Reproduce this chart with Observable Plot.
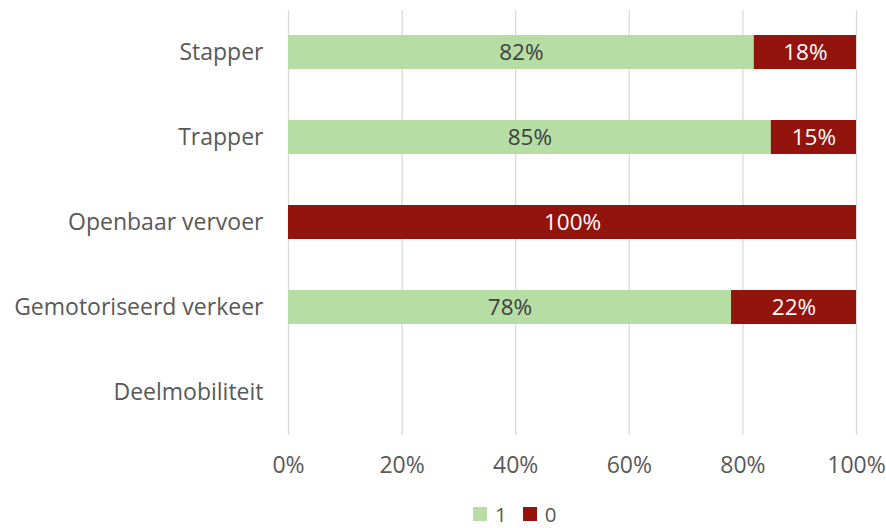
<!DOCTYPE html>
<html>
<head>
<meta charset="utf-8">
<script src="https://cdn.jsdelivr.net/npm/d3@7"></script>
<script src="https://cdn.jsdelivr.net/npm/@observablehq/plot@0.6"></script>
<style>
  html, body { margin: 0; padding: 0; background: #fff; overflow: hidden; }
  #chart { width: 886px; height: 528px; position: relative; }
  .legend { position: absolute; left: 473px; top: 501px; display: flex; align-items: center; height: 26px; font-family: "Open Sans", sans-serif; font-size: 20.5px; line-height: 26px; color: #595959; }
  .legend span.sw { display: inline-block; width: 14px; height: 14px; margin-right: 8px; }
  .legend span.it { display: inline-flex; align-items: center; margin-right: 16px; line-height: 26px; }
</style>
</head>
<body>
<div id="chart"></div>
<script>
const categories = ["Stapper", "Trapper", "Openbaar vervoer", "Gemotoriseerd verkeer", "Deelmobiliteit"];
const seriesNames = ["1", "0"];
const values1 = [82, 85, 0, 78, 0];
const values0 = [18, 15, 100, 22, 0];
const colors = ["#b5dda4", "#92140c"];
const xTicks = [0, 20, 40, 60, 80, 100];

const rows = [];
categories.forEach((c, i) => {
  const v1 = values1[i], v0 = values0[i];
  rows.push({cat: c, series: "1", x1: 0, x2: v1, value: v1});
  rows.push({cat: c, series: "0", x1: v1, x2: v1 + v0, value: v0});
});
const shown = rows.filter(d => d.value > 0);

const font = '"Open Sans", sans-serif';
const plot = Plot.plot({
  width: 886,
  height: 490,
  marginLeft: 288,
  marginRight: 30,
  marginTop: 10,
  marginBottom: 55,
  style: {fontFamily: font, fontSize: "23px", color: "#595959", background: "white"},
  x: {domain: [0, 100], ticks: xTicks, tickFormat: d => d + "%", tickSize: 0, tickPadding: 21, label: null},
  y: {domain: categories, paddingInner: 0.6, paddingOuter: 0.3, tickSize: 0, tickPadding: 25, label: null},
  color: {domain: seriesNames, range: colors},
  marks: [
    Plot.ruleX(xTicks, {stroke: "#d9d9d9", strokeWidth: 1.3}),
    Plot.barX(shown, {x1: "x1", x2: "x2", y: "cat", fill: "series"}),
    Plot.text(shown.filter(d => d.series === "1"), {x: d => (d.x1 + d.x2) / 2, y: "cat", text: d => d.value + "%", fill: "#404040", fontSize: 22.5}),
    Plot.text(shown.filter(d => d.series === "0"), {x: d => (d.x1 + d.x2) / 2, y: "cat", text: d => d.value + "%", fill: "white", fontSize: 22.5})
  ]
});
document.getElementById("chart").appendChild(plot);

const legend = document.createElement("div");
legend.className = "legend";
seriesNames.forEach((s, i) => {
  const it = document.createElement("span");
  it.className = "it";
  it.innerHTML = `<span class="sw" style="background:${colors[i]}"></span>${s}`;
  legend.appendChild(it);
});
document.getElementById("chart").appendChild(legend);
</script>
</body>
</html>
